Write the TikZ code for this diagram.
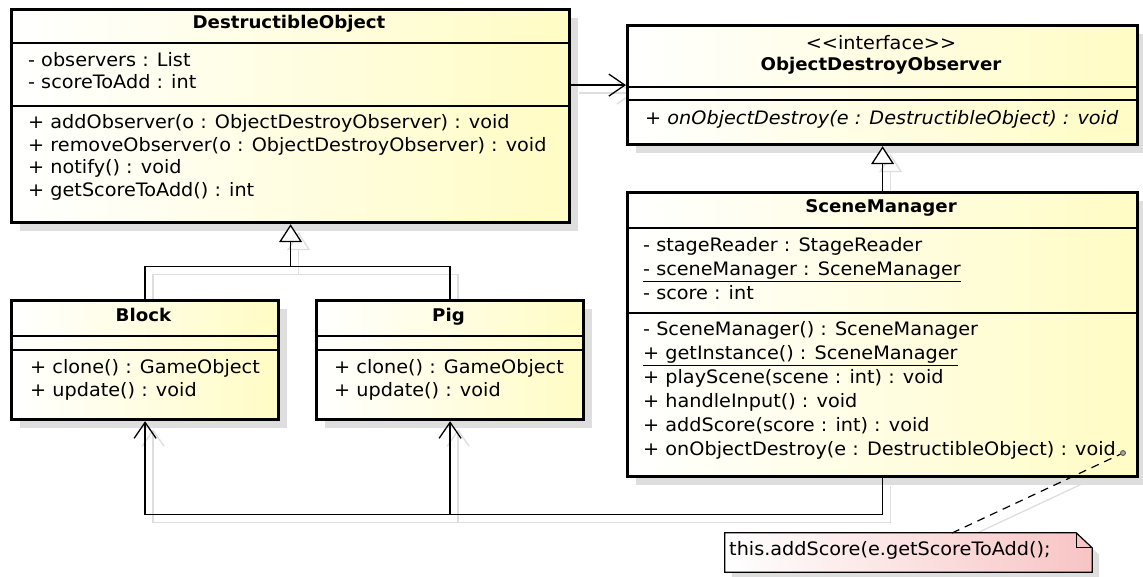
\documentclass[tikz,border=0pt]{standalone}
\usepackage{fontspec}
\setmainfont{DejaVu Sans}[FakeStretch=1.04]
\usetikzlibrary{arrows.meta,calc,shadows}
\definecolor{umlyellow}{RGB}{255,252,196}
\definecolor{notepink}{RGB}{248,196,196}
\definecolor{shadowgray}{RGB}{222,222,222}
\pgfdeclarelayer{bg}
\pgfsetlayers{bg,main}
\begin{document}
\begin{tikzpicture}[x=1pt,y=-1pt,
  classbox/.style={draw=black, line width=3.2pt, left color=white, right color=umlyellow,
    anchor=north west, inner sep=0pt,
    drop shadow={shadow xshift=8pt, shadow yshift=-8pt, fill=shadowgray, opacity=1}},
  sep/.style={line width=1.4pt},
  member/.style={anchor=mid west, inner sep=0pt, font=\fontsize{18.5}{21}\selectfont},
  title/.style={anchor=mid, inner sep=0pt, font=\fontsize{17.5}{21}\selectfont\bfseries},
  conn/.style={line width=1.3pt},
  cshadow/.style={draw=shadowgray, line width=1.3pt, transform canvas={shift={(8pt,-8pt)}}},
  gen/.style={-{Triangle[open, length=18pt, width=23pt, fill=white]}},
  assoc/.style={-{Straight Barb[length=16pt, width=22pt]}},
]
\useasboundingbox (0,0) rectangle (1143,576);

% ---- boxes
\node[classbox, minimum width=558pt, minimum height=213pt] (do) at (10,8) {};
\node[classbox, minimum width=510pt, minimum height=119pt] (if) at (626,24) {};
\node[classbox, minimum width=510pt, minimum height=284pt] (sm) at (626,191) {};
\node[classbox, minimum width=267pt, minimum height=119pt] (blk) at (10,299) {};
\node[classbox, minimum width=267pt, minimum height=119pt] (pig) at (315,299) {};

% separators
\draw[sep] ($(do.north west)+(0,35)$) -- ($(do.north east)+(0,35)$);
\draw[sep] ($(do.north west)+(0,98)$) -- ($(do.north east)+(0,98)$);
\draw[sep] ($(if.north west)+(0,63)$) -- ($(if.north east)+(0,63)$);
\draw[sep] ($(if.north west)+(0,76)$) -- ($(if.north east)+(0,76)$);
\draw[sep] ($(sm.north west)+(0,37)$) -- ($(sm.north east)+(0,37)$);
\draw[sep] ($(sm.north west)+(0,122)$) -- ($(sm.north east)+(0,122)$);
\draw[sep] ($(blk.north west)+(0,37)$) -- ($(blk.north east)+(0,37)$);
\draw[sep] ($(blk.north west)+(0,51)$) -- ($(blk.north east)+(0,51)$);
\draw[sep] ($(pig.north west)+(0,37)$) -- ($(pig.north east)+(0,37)$);
\draw[sep] ($(pig.north west)+(0,51)$) -- ($(pig.north east)+(0,51)$);

% ---- texts DestructibleObject
\node[title] (do-t) at (289,26) {DestructibleObject};
\node[member] (do-a1) at (28,64) {- observers : List};
\node[member] (do-a2) at (28,86) {- scoreToAdd : int};
\node[member] (do-m1) at (28,126) {+ addObserver(o : ObjectDestroyObserver) : void};
\node[member] (do-m2) at (28,148.5) {+ removeObserver(o : ObjectDestroyObserver) : void};
\node[member] (do-m3) at (28,171) {+ notify() : void};
\node[member] (do-m4) at (28,193.5) {+ getScoreToAdd() : int};

% interface
\node[member, anchor=mid] (if-s) at (881,47) {<{}<interface>{}>};
\node[title] (if-t) at (881,68) {ObjectDestroyObserver};
\node[member] (if-m1) at (645,122) {\itshape + onObjectDestroy(e : DestructibleObject) : void};

% SceneManager
\node[title] (sm-t) at (881,210) {SceneManager};
\node[member] (sm-a1) at (643,249) {- stageReader : StageReader};
\node[member] (sm-a2) at (643,273) {\underline{- sceneManager : SceneManager}};
\node[member] (sm-a3) at (643,297) {- score : int};
\node[member] (sm-m1) at (643,333) {- SceneManager() : SceneManager};
\node[member] (sm-m2) at (643,357) {\underline{+ getInstance() : SceneManager}};
\node[member] (sm-m3) at (643,381) {+ playScene(scene : int) : void};
\node[member] (sm-m4) at (643,405) {+ handleInput() : void};
\node[member] (sm-m5) at (643,429) {+ addScore(score : int) : void};
\node[member] (sm-m6) at (643,453) {+ onObjectDestroy(e : DestructibleObject) : void};

% Block / Pig
\node[title] (blk-t) at (143.5,319) {Block};
\node[member] (blk-m1) at (30,371) {+ clone() : GameObject};
\node[member] (blk-m2) at (30,394) {+ update() : void};
\node[title] (pig-t) at (448.5,319) {Pig};
\node[member] (pig-m1) at (334,371) {+ clone() : GameObject};
\node[member] (pig-m2) at (334,394) {+ update() : void};

% ---- note
\node[minimum width=367pt, minimum height=39pt, inner sep=0pt] (note) at (908.5,552.5) {};
\begin{pgfonlayer}{bg}
\fill[shadowgray] ($(note.north west)+(7,7)$) -- ($(note.north east)+(-9,7)$) -- ($(note.north east)+(7,22)$) -- ($(note.south east)+(7,7)$) -- ($(note.south west)+(7,7)$) -- cycle;
\end{pgfonlayer}
\shade[left color=white, right color=notepink, draw=black, line width=1.2pt]
  (note.north west) -- ($(note.north east)+(-16,0)$) -- ($(note.north east)+(0,15)$)
  -- (note.south east) -- (note.south west) -- cycle;
\draw[line width=1.2pt] ($(note.north east)+(-16,0)$) -- ($(note.north east)+(-16,15)$) -- ($(note.north east)+(0,15)$);
\node[member] (note-t) at (729,553) {this.addScore(e.getScoreToAdd();};

% ---- connectors
\coordinate (gj) at ($(do.south)+(0,42)$);
\coordinate (aj) at ($(sm.south)+(0,36)$);
\coordinate (notetop) at (952,533);
\node[circle, draw=black!70, fill=black!35, line width=0.8pt, inner sep=0pt, minimum size=5pt] (dot) at (1123,453) {};

\begin{pgfonlayer}{bg}
\draw[cshadow, assoc] (do.east |- if.west) -- (if.west);
\draw[cshadow] (blk.north) |- (gj) -| (pig.north);
\draw[cshadow, gen] (gj) -- (do.south);
\draw[cshadow, gen] (sm.north) -- (if.south);
\draw[cshadow, assoc] (sm.south) -- (aj) -| (blk.south);
\draw[cshadow, assoc] (aj) -| (pig.south);
\draw[cshadow] (notetop) -- (dot);
\end{pgfonlayer}

\draw[conn, assoc] (do.east |- if.west) -- (if.west);
\draw[conn] (blk.north) |- (gj) -| (pig.north);
\draw[conn, gen] (gj) -- (do.south);
\draw[conn, gen] (sm.north) -- (if.south);
\draw[conn, assoc] (sm.south) -- (aj) -| (blk.south);
\draw[conn, assoc] (aj) -| (pig.south);
\draw[line width=1.2pt, dash pattern=on 8pt off 6pt] (notetop) -- (dot);
\end{tikzpicture}
\end{document}
